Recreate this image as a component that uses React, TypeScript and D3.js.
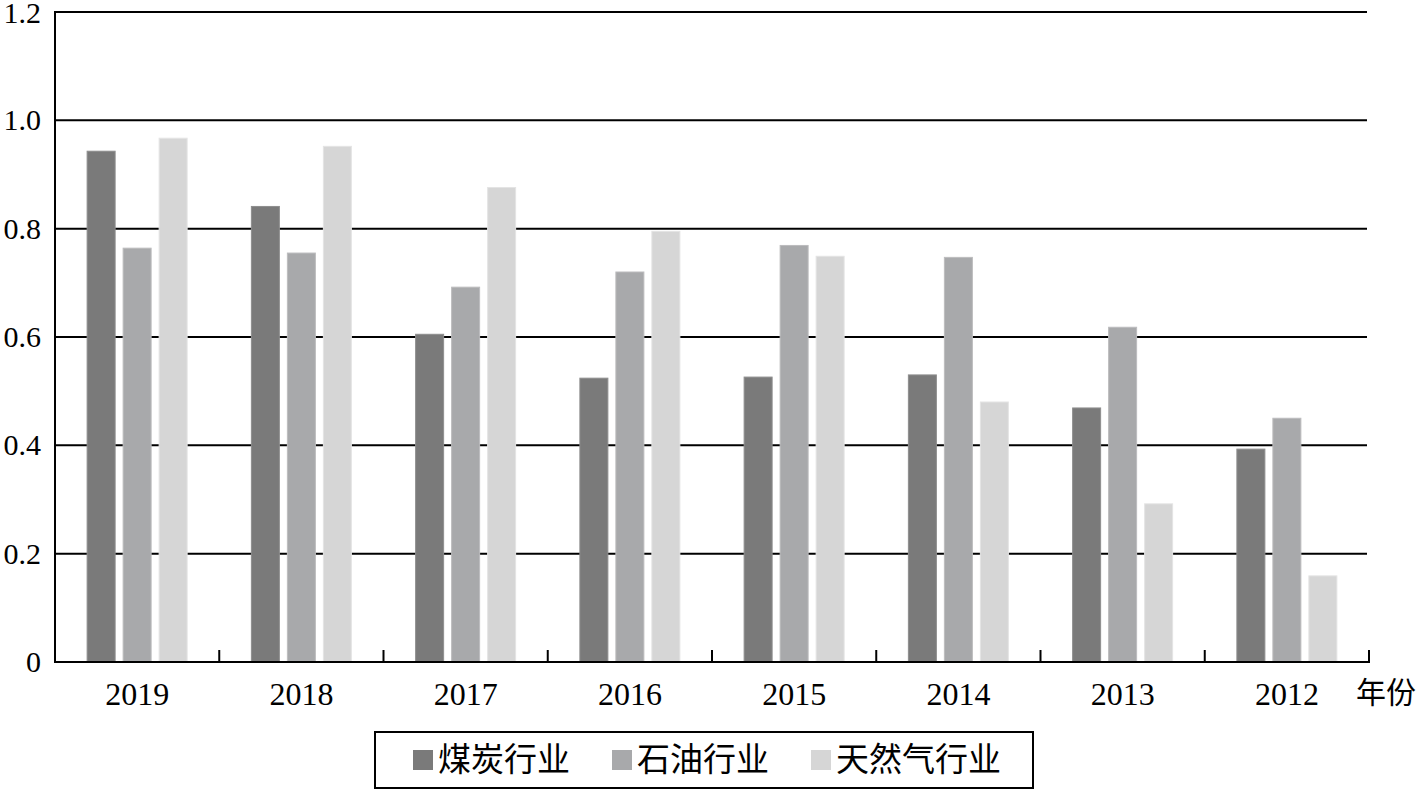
import React from "react";
import * as d3 from "d3";

const years = ["2019", "2018", "2017", "2016", "2015", "2014", "2013", "2012"];
const seriesNames = ["煤炭行业", "石油行业", "天然气行业"];
const coal = [0.943, 0.841, 0.605, 0.524, 0.526, 0.530, 0.469, 0.393];
const oil = [0.764, 0.755, 0.692, 0.720, 0.769, 0.747, 0.618, 0.450];
const gas = [0.967, 0.952, 0.876, 0.795, 0.749, 0.480, 0.292, 0.159];
const yTicks = [0, 0.2, 0.4, 0.6, 0.8, 1.0, 1.2];
const xAxisTitle = "年份";

const colors = ["#7a7a7a", "#a8a9ab", "#d6d6d6"];
const strokes = ["#8e8e8e", "#bcbcbe", "#e4e4e4"];

const W = 1421;
const H = 791;
const left = 55;
const right = 1369;
const top = 12;
const bottom = 662;

const latin = "Liberation Serif, Times New Roman, DejaVu Serif, serif";
const cjk = "Liberation Serif, Noto Sans CJK SC, serif";

export default function App() {
  const values = [coal, oil, gas];
  const x = d3.scaleBand<string>().domain(years).range([left, right]).padding(0);
  const y = d3.scaleLinear().domain([0, 1.2]).range([bottom, top]);
  const bw = x.bandwidth();
  const inner = d3
    .scaleBand<string>()
    .domain(seriesNames)
    .range([bw / 2 - 50, bw / 2 + 50])
    .paddingInner(8 / 36)
    .paddingOuter(0);

  const legendItems: { sx: number; tx: number; name: string; color: string }[] = [];
  const legendX0 = 413;
  const fontL = 33;
  let cx = legendX0;
  seriesNames.forEach((name, i) => {
    legendItems.push({ sx: cx, tx: cx + 25, name, color: colors[i] });
    cx += 25 + name.length * fontL + 42;
  });

  const boundaries = years.map((yr) => (x(yr) as number) + bw);

  return (
    <svg
      width={W}
      height={H}
      style={{ position: "absolute", left: 0, top: 0, background: "#fff" }}
    >
      <rect x={0} y={0} width={W} height={H} fill="#fff" />
      {yTicks
        .filter((t) => t > 0)
        .map((t) => (
          <line
            key={"g" + t}
            x1={left}
            x2={right - 2}
            y1={y(t)}
            y2={y(t)}
            stroke="#000"
            strokeWidth={2}
          />
        ))}
      {years.map((yr, gi) =>
        seriesNames.map((s, si) => {
          const v = values[si][gi];
          const bx = (x(yr) as number) + (inner(s) as number);
          return (
            <rect
              key={yr + s}
              x={bx}
              y={y(v)}
              width={inner.bandwidth()}
              height={bottom - y(v)}
              fill={colors[si]}
              stroke={strokes[si]}
              strokeWidth={1}
            />
          );
        })
      )}
      <line x1={left} x2={left} y1={top - 1} y2={bottom + 1} stroke="#000" strokeWidth={2} />
      <line x1={left - 1} x2={right + 1} y1={bottom} y2={bottom} stroke="#000" strokeWidth={2} />
      {boundaries.map((bx, i) => (
        <line key={"t" + i} x1={bx} x2={bx} y1={bottom - 12} y2={bottom} stroke="#000" strokeWidth={2} />
      ))}
      {yTicks.map((t) => (
        <text
          key={"yl" + t}
          x={41}
          y={Math.max(y(t) + 10, 23)}
          textAnchor="end"
          style={{ fontFamily: latin, fontSize: 30 }}
          fill="#000"
        >
          {t === 0 ? "0" : t.toFixed(1)}
        </text>
      ))}
      {years.map((yr) => (
        <text
          key={"xl" + yr}
          x={(x(yr) as number) + bw / 2}
          y={705}
          textAnchor="middle"
          style={{ fontFamily: latin, fontSize: 32 }}
          fill="#000"
        >
          {yr}
        </text>
      ))}
      <text x={1356} y={703} style={{ fontFamily: cjk, fontSize: 30 }} fill="#000">
        {xAxisTitle}
      </text>
      <rect x={375} y={732} width={658} height={56} fill="#fff" stroke="#000" strokeWidth={2} />
      {legendItems.map((it) => (
        <g key={it.name}>
          <rect x={it.sx} y={750} width={20} height={20} fill={it.color} />
          <text x={it.tx} y={771} style={{ fontFamily: cjk, fontSize: fontL }} fill="#000">
            {it.name}
          </text>
        </g>
      ))}
    </svg>
  );
}
